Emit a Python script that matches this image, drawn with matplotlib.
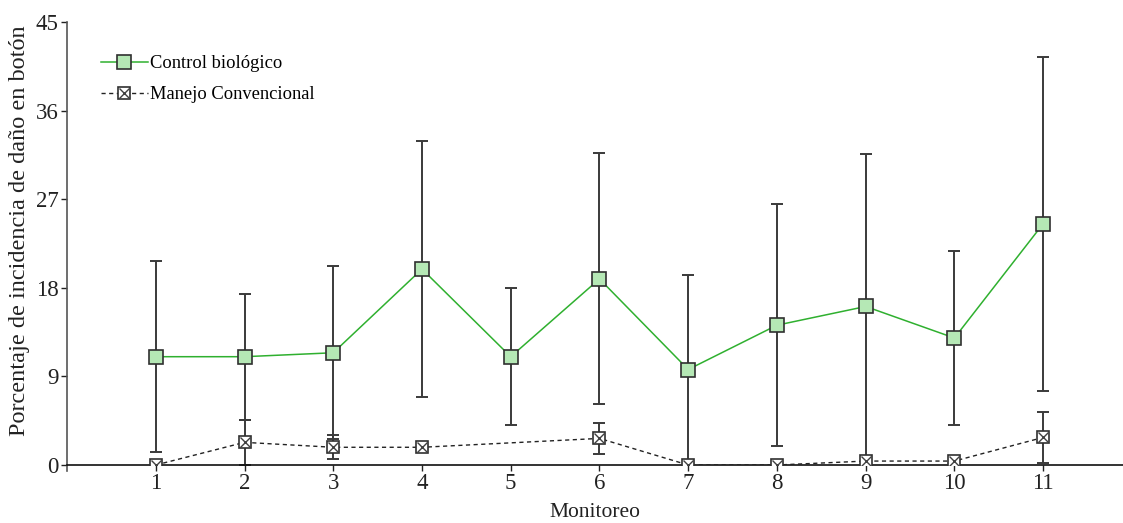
import matplotlib
matplotlib.use("Agg")
import matplotlib.pyplot as plt
import numpy as np
from matplotlib.legend_handler import HandlerTuple

monitoreo = [1, 2, 3, 4, 5, 6, 7, 8, 9, 10, 11]
control_mean = [11.0, 11.0, 11.4, 19.9, 11.0, 18.9, 9.7, 14.2, 16.1, 12.9, 24.5]
control_err = [9.7, 6.4, 8.8, 13.0, 6.95, 12.75, 9.6, 12.3, 15.5, 8.85, 16.95]
manejo_mean = [0.0, 2.3, 1.8, 1.8, None, 2.7, 0.0, 0.0, 0.4, 0.4, 2.8]
manejo_err = [0.0, 2.3, 1.2, 0.0, None, 1.6, 0.0, 0.0, 0.0, 0.0, 2.6]

yticks = [0, 9, 18, 27, 36, 45]

plt.rcParams['font.family'] = ['Liberation Serif', 'DejaVu Serif']

fig = plt.figure(figsize=(11.23, 5.23), dpi=100)
ax = fig.add_axes([0.0597, 0.1109, 0.9403, 0.8471])

err_color = '#3a3a3a'
green = '#2fb02f'
fill_green = '#b5e8b5'

# Control biológico
ax.errorbar(monitoreo, control_mean, yerr=control_err, fmt='none',
            ecolor=err_color, elinewidth=1.4, capsize=4, capthick=1.4, zorder=2)
l1, = ax.plot(monitoreo, control_mean, color=green, lw=1.1, marker='s',
              markersize=9.5, markerfacecolor=fill_green, markeredgecolor='#303030',
              markeredgewidth=1.2, zorder=4)

# Manejo convencional
mx = [x for x, v in zip(monitoreo, manejo_mean) if v is not None]
my = [v for v in manejo_mean if v is not None]
me = [e for e in manejo_err if e is not None]
mx_e = [x for x, e in zip(mx, me) if e > 0]
my_e = [y for y, e in zip(my, me) if e > 0]
me_e = [e for e in me if e > 0]
ax.errorbar(mx_e, my_e, yerr=me_e, fmt='none', ecolor=err_color,
            elinewidth=1.4, capsize=4, capthick=1.4, zorder=2)
l2, = ax.plot(mx, my, color='#222222', lw=1.0, ls=(0, (3, 2.5)), marker='s',
              markersize=9, markerfacecolor='white', markeredgecolor='#303030',
              markeredgewidth=1.2, zorder=5)
l2x, = ax.plot(mx, my, ls='none', marker='x', markersize=6.5,
               markeredgecolor='#404040', markeredgewidth=1.0, zorder=6)

ax.set_xlim(0.0, 11.9)
ax.set_ylim(0, 45)
ax.set_xticks(monitoreo)
ax.set_yticks(yticks)
ax.tick_params(axis='both', labelsize=16.5, length=4, width=1, colors='#222222',
               labelcolor='#222222', pad=2)
ax.spines['top'].set_visible(False)
ax.spines['right'].set_visible(False)
ax.spines['left'].set_color('#555555')
ax.spines['left'].set_linewidth(1.2)
ax.spines['left'].set_bounds(-0.6, 45)
ax.spines['bottom'].set_color('#111111')
ax.spines['bottom'].set_linewidth(1.2)

ax.set_xlabel('Monitoreo', fontsize=15.5, color='#222222', labelpad=6.5)
ax.set_ylabel('Porcentaje de incidencia de daño en botón', fontsize=17.5,
              color='#222222')
ax.yaxis.set_label_coords(-0.035, 0.53)

leg = ax.legend([l1, (l2, l2x)], ['Control biológico', 'Manejo Convencional'],
                handler_map={tuple: HandlerTuple(ndivide=1, pad=0)},
                loc='upper left', bbox_to_anchor=(0.022, 0.95), frameon=False,
                fontsize=13.3, handlelength=2.5, handletextpad=0.15, labelspacing=0.75,
                borderaxespad=0.2)

fig.savefig('out.png', dpi=100)
